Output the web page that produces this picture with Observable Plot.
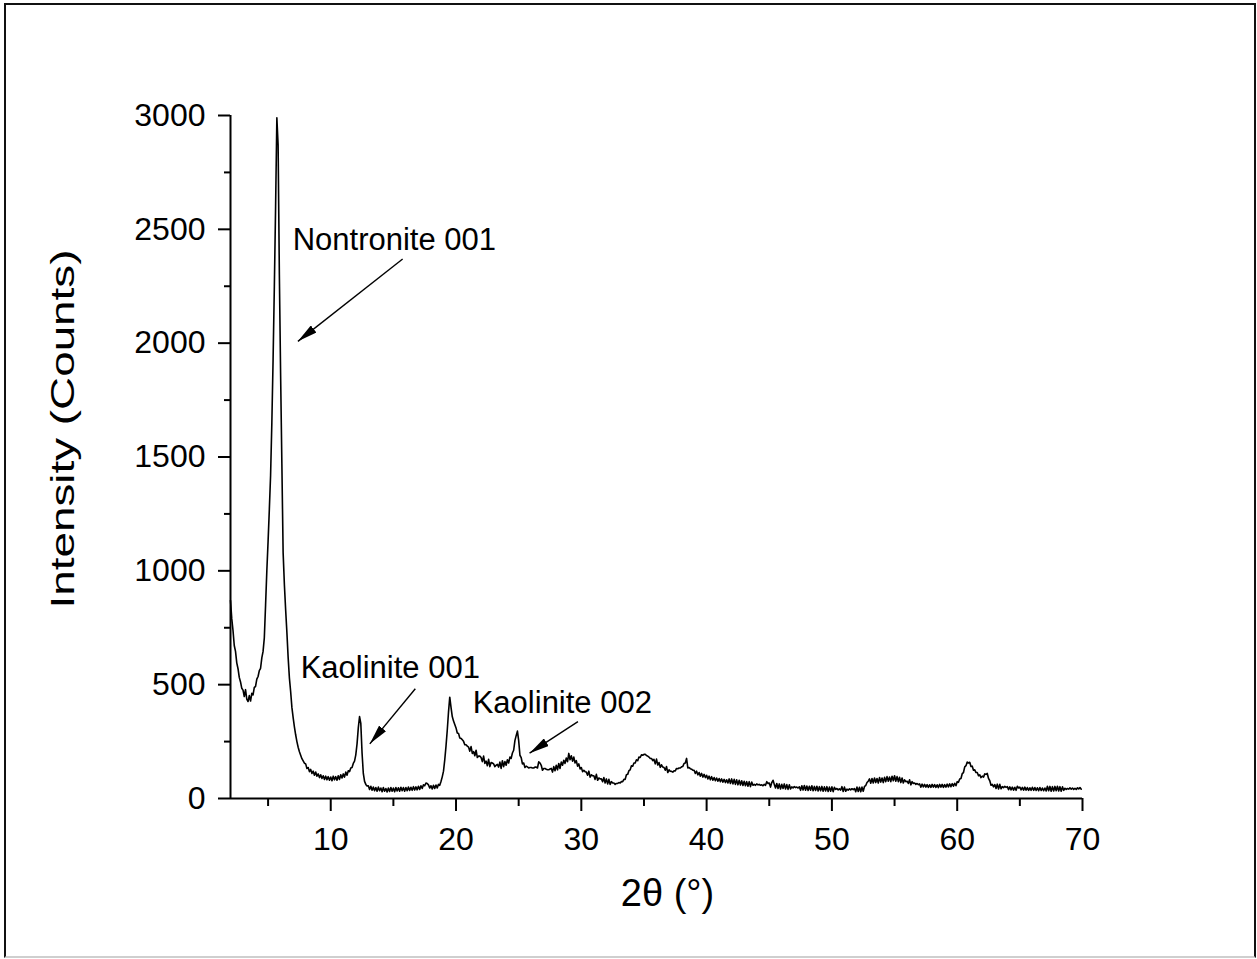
<!DOCTYPE html>
<html>
<head>
<meta charset="utf-8">
<script src="https://cdn.jsdelivr.net/npm/d3@7"></script>
<script src="https://cdn.jsdelivr.net/npm/@observablehq/plot@0.6"></script>
<style>
  html, body { margin: 0; padding: 0; background: #fff; }
  #wrap { position: relative; width: 1257px; height: 959px; overflow: hidden; background: #fff; }
  #wrap svg { display: block; position: absolute; left: 0; top: 0; }
  #frame {
    position: absolute; left: 4px; top: 3px; width: 1252px; height: 955px;
    box-sizing: border-box; border: 2px solid #111; border-bottom-color: #cfcfcf;
    pointer-events: none;
  }
</style>
</head>
<body>
<div id="wrap"><div id="frame"></div></div>
<script>
// XRD scan: 2θ from 2.0° in 0.1° steps
const scanStart = 2.0;
const scanStep = 0.1;
const intensity = [
  870,790,738,672,646,596,570,532,512,484,       // 2
  476,448,478,436,426,452,428,462,455,488,       // 3
  492,524,536,562,572,618,646,706,850,1000,      // 4
  1130,1270,1420,1650,1930,2250,2600,2990,2870,2300, // 5
  1860,1470,1080,940,830,730,620,530,470,400,    // 6
  355,315,280,250,225,205,190,175,165,155,       // 7
  152,132,136,118,128,110,120,102,116,98,        // 8
  108,92,104,88,100,84,98,82,96,80,              // 9
  94,78,98,82,96,80,100,84,104,90,               // 10
  108,94,116,102,122,118,134,136,154,164,        // 11
  192,240,310,360,330,200,110,75,62,55,          // 12
  56,40,54,36,50,34,48,32,50,34,                 // 13
  46,30,48,32,44,29,46,31,48,32,                 // 14
  46,30,48,33,47,32,49,34,48,32,                 // 15
  48,34,50,35,49,36,52,37,51,38,                 // 16
  54,40,56,44,60,56,68,66,60,46,                 // 17
  56,42,58,44,59,46,62,58,75,95,                 // 18
  120,170,230,300,380,445,400,360,340,325,       // 19
  310,288,286,266,264,258,251,236,236,230,       // 20
  226,208,228,198,206,188,212,180,186,186,       // 21
  180,162,186,154,164,144,172,140,158,156,       // 22
  152,140,146,150,138,160,132,166,140,162,       // 23
  146,170,156,182,176,200,212,254,276,296,       // 24
  254,190,180,152,156,136,142,139,134,136,       // 25
  136,134,134,138,138,134,161,156,146,124,       // 26
  132,132,128,126,126,130,132,116,140,122,       // 27
  146,126,154,132,160,146,168,154,178,162,       // 28
  198,170,188,164,182,156,166,142,152,130,       // 29
  136,118,124,118,116,102,120,94,104,100,        // 30
  100,84,106,80,90,86,86,74,92,68,               // 31
  86,64,84,62,74,68,68,62,66,66,                 // 32
  70,68,74,74,84,84,104,106,122,126,             // 33
  144,142,156,156,170,166,182,180,192,190,       // 34
  194,194,189,186,182,176,176,166,172,152,       // 35
  173,147,158,137,148,138,136,124,140,114,       // 36
  126,120,119,116,122,121,132,131,134,134,       // 37
  139,141,154,156,176,134,136,131,129,124,       // 38
  124,110,120,104,114,98,110,94,106,92,          // 39
  102,86,98,82,96,80,92,78,90,76,                // 40
  88,74,86,72,84,70,82,68,86,66,                 // 41
  86,64,84,62,82,60,80,59,78,57,                 // 42
  76,56,74,54,74,52,72,58,62,58,                 // 43
  64,60,62,58,60,56,62,58,74,66,                 // 44
  68,50,70,80,62,46,66,44,64,42,                 // 45
  62,44,64,42,61,40,60,42,51,47,                 // 46
  52,48,50,46,51,36,56,37,57,36,                 // 47
  55,35,54,36,56,34,53,35,54,33,                 // 48
  52,34,53,32,51,33,52,31,50,32,                 // 49
  51,30,49,40,44,38,42,37,52,31,                 // 50
  50,32,41,37,42,38,43,39,44,30,                 // 51
  50,31,49,30,50,32,53,57,70,76,                 // 52
  86,67,88,68,90,70,88,68,92,72,                 // 53
  90,70,93,74,96,76,94,74,98,78,                 // 54
  100,76,96,74,93,70,90,68,82,74,                // 55
  76,66,82,60,74,66,68,62,66,61,                 // 56
  64,50,63,51,62,50,61,49,60,49,                 // 57
  62,50,61,49,60,48,62,50,62,49,                 // 58
  61,50,63,51,64,52,65,54,67,56,                 // 59
  74,71,86,88,109,114,139,144,160,156,           // 60
  159,141,142,124,126,114,114,100,104,92,        // 61
  98,94,108,106,110,88,78,58,62,51,              // 62
  61,44,63,42,62,43,52,48,53,49,                 // 63
  52,39,51,38,50,37,49,36,54,46,                 // 64
  50,38,49,37,50,37,48,36,47,36,                 // 65
  49,36,48,35,47,34,48,35,46,34,                 // 66
  46,33,54,34,53,32,52,33,53,34,                 // 67
  54,33,52,32,51,36,45,40,44,41,                 // 68
  47,41,46,40,45,40,47,42,48,41                  // 69
];

// Axis ticks
const xMajorTicks = [10, 20, 30, 40, 50, 60, 70];
const xMinorTicks = [5, 15, 25, 35, 45, 55, 65];
const yMajorTicks = [0, 500, 1000, 1500, 2000, 2500, 3000];
const yMinorTicks = [250, 750, 1250, 1750, 2250, 2750];

// Peak annotations: label anchor and arrow (tail → head), in 2θ / counts
const peakNames  = ["Nontronite 001", "Kaolinite 001", "Kaolinite 002"];
const labelAngle = [6.96, 7.6, 21.33];
const labelCount = [2451, 575, 419];
const tailAngle  = [15.74, 16.75, 29.73];
const tailCount  = [2370, 482, 338];
const headAngle  = [7.38, 13.12, 25.87];
const headCount  = [2008, 240, 199];

const pattern = intensity.map((c, i) => ({angle: +(scanStart + i * scanStep).toFixed(2), counts: c}));
const notes = peakNames.map((name, i) => ({
  name, lx: labelAngle[i], ly: labelCount[i],
  x1: tailAngle[i], y1: tailCount[i], x2: headAngle[i], y2: headCount[i]
}));

const yTitle = "Intensity (Counts)";
const xTitle = "2θ (°)";

const chart = Plot.plot({
  width: 1257,
  height: 959,
  marginLeft: 230,
  marginRight: 175,
  marginTop: 115,
  marginBottom: 161,
  style: {fontFamily: '"Liberation Sans", Arial, sans-serif', color: "#000", background: "#fff", overflow: "visible"},
  x: {domain: [2, 70]},
  y: {domain: [0, 3000]},
  marks: [
    Plot.axisX({ticks: xMinorTicks, tickSize: 8, tickFormat: () => "", label: null, strokeWidth: 2}),
    Plot.axisX({ticks: xMajorTicks, tickSize: 13, tickPadding: 16, fontSize: 32, tickFormat: (d) => String(d), label: null, strokeWidth: 2}),
    Plot.axisY({ticks: yMinorTicks, tickSize: 6, tickFormat: () => "", label: null, strokeWidth: 2}),
    Plot.axisY({ticks: yMajorTicks, tickSize: 12, tickPadding: 13, fontSize: 32, tickFormat: (d) => String(d), label: null, strokeWidth: 2}),
    Plot.ruleX([2], {stroke: "#000", strokeWidth: 2}),
    Plot.ruleY([0], {stroke: "#000", strokeWidth: 2}),
    Plot.line(pattern, {x: "angle", y: "counts", stroke: "#000", strokeWidth: 1.6}),
    Plot.link(notes, {x1: "x1", y1: "y1", x2: "x2", y2: "y2", stroke: "#000", strokeWidth: 1.4}),
    Plot.text(notes, {x: "lx", y: "ly", text: "name", textAnchor: "start", fontSize: 31, fill: "#000"}),
    Plot.text([yTitle], {frameAnchor: "left", textAnchor: "middle", lineAnchor: "middle", rotate: -90, dx: -167, dy: -28, fontSize: 34, fill: "#000"}),
    Plot.text([xTitle], {frameAnchor: "bottom", textAnchor: "middle", lineAnchor: "middle", dx: 11, dy: 95, fontSize: 38, fill: "#000"})
  ]
});

const wrap = document.getElementById("wrap");
wrap.insertBefore(chart, document.getElementById("frame"));

// Solid arrowheads on the annotation links
const svg = d3.select(chart);
const marker = svg.insert("defs", ":first-child").append("marker")
  .attr("id", "peak-arrowhead")
  .attr("viewBox", "0 0 20 9")
  .attr("refX", 20).attr("refY", 4.5)
  .attr("markerWidth", 20).attr("markerHeight", 9)
  .attr("markerUnits", "userSpaceOnUse")
  .attr("orient", "auto");
marker.append("path").attr("d", "M0,0L20,4.5L0,9Z").attr("fill", "#000");
svg.selectAll('g[aria-label="link"] path').attr("marker-end", "url(#peak-arrowhead)");

// The y-axis title is set wide along its reading direction
svg.selectAll("text").filter(function () { return this.textContent === yTitle; })
  .attr("textLength", 359)
  .attr("lengthAdjust", "spacingAndGlyphs");
</script>
</body>
</html>
